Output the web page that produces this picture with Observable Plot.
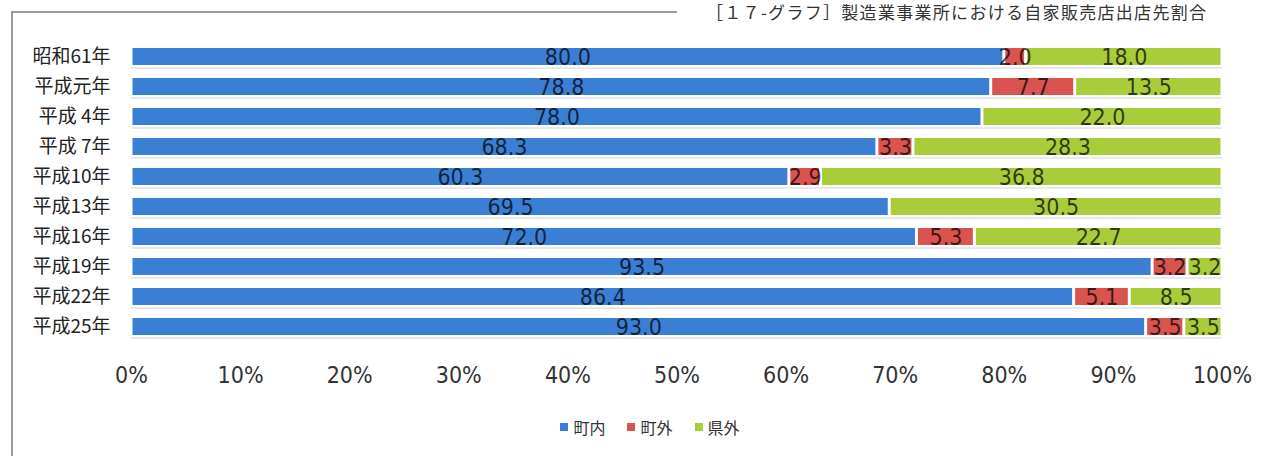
<!DOCTYPE html>
<html>
<head>
<meta charset="utf-8">
<script src="https://cdn.jsdelivr.net/npm/d3@7"></script>
<script src="https://cdn.jsdelivr.net/npm/@observablehq/plot@0.6"></script>
<style>
  html, body { margin: 0; padding: 0; background: #fff; }
  #wrap { position: relative; width: 1266px; height: 456px; overflow: hidden; background: #fff; }
  #title { position: absolute; left: 706px; top: 2px; font: 17px/19px "Noto Sans CJK JP", sans-serif; letter-spacing: 1.3px; color: #333; white-space: nowrap; }
  #frameTop { position: absolute; left: 11px; top: 11px; width: 666px; height: 2px; background: #9a9a9a; }
  #frameLeft { position: absolute; left: 11px; top: 11px; width: 2px; height: 460px; background: #9a9a9a; }
  #chart { position: absolute; left: 0; top: 0; }
  #legend { position: absolute; left: 0; top: 415px; width: 1266px; display: flex; justify-content: center; gap: 22px; font: 16px "Noto Sans CJK JP", sans-serif; color: #333; padding-left: 34px; box-sizing: border-box; }
  #legend span.item { display: flex; align-items: center; gap: 5px; }
  #legend span.sw { display: inline-block; width: 8px; height: 8px; }
</style>
</head>
<body>
<div id="wrap">
  <div id="title">［１７-グラフ］製造業事業所における自家販売店出店先割合</div>
  <div id="frameTop"></div>
  <div id="frameLeft"></div>
  <div id="chart"></div>
  <div id="legend"></div>
</div>
<script>
const years = ["昭和61年","平成元年","平成 4年","平成 7年","平成10年","平成13年","平成16年","平成19年","平成22年","平成25年"];
const categories = ["町内","町外","県外"];
const inTown  = [80.0, 78.8, 78.0, 68.3, 60.3, 69.5, 72.0, 93.5, 86.4, 93.0];
const outTown = [2.0, 7.7, 0, 3.3, 2.9, 0, 5.3, 3.2, 5.1, 3.5];
const outPref = [18.0, 13.5, 22.0, 28.3, 36.8, 30.5, 22.7, 3.2, 8.5, 3.5];
const xTicks = [0,10,20,30,40,50,60,70,80,90,100];
const colors = ["#3b7fd4","#d9534f","#a8cc3a"];

const series = [inTown, outTown, outPref];
const data = [];
years.forEach((y, i) => {
  categories.forEach((c, j) => {
    data.push({year: y, cat: c, value: series[j][i]});
  });
});

const numFont = "'Liberation Sans Narrow', 'DejaVu Sans Condensed', sans-serif";

const chart = Plot.plot({
  width: 1266,
  height: 400,
  marginLeft: 131,
  marginRight: 44,
  marginTop: 42,
  marginBottom: 58,
  style: {background: "transparent", color: "#333"},
  x: {domain: [0, 100], percent: true, ticks: xTicks, tickFormat: d => d + "%", tickSize: 0, tickPadding: 24, label: null},
  y: {domain: years, paddingInner: 0.43, paddingOuter: 0.215, tickSize: 0, tickPadding: 21, label: null},
  color: {domain: categories, range: colors},
  marks: [
    Plot.ruleY(years, {y: d => d, dy: 11, x1: 0, x2: 1, stroke: "#c8ccd6", strokeWidth: 1.5, strokeOpacity: 0.6}),
    Plot.barX(data, Plot.stackX({x: "value", y: "year", z: "cat", fill: "cat", order: null, offset: "normalize", insetLeft: 1.5, insetRight: 1.5})),
    Plot.text(data.filter(d => d.value > 0), Plot.stackX({x: "value", y: "year", z: "cat", order: null, offset: "normalize",
      text: d => d.value.toFixed(1), fill: "#000", fillOpacity: 0.72, fontSize: 23, fontFamily: numFont, dy: 1})),
    Plot.ruleX([0], {y1: years[0], y2: years[years.length-1], insetTop: -14, insetBottom: -14, stroke: "#aaa", strokeWidth: 1.2})
  ]
});

chart.querySelectorAll("g[aria-label='x-axis tick label'] text").forEach(t => {
  t.style.fontFamily = numFont; t.style.fontSize = "23px"; t.style.fill = "#333";
});
chart.querySelectorAll("g[aria-label='y-axis tick label'] text").forEach(t => {
  t.style.fontFamily = "'Noto Sans CJK JP', sans-serif"; t.style.fontSize = "19px"; t.style.fill = "#222";
  t.setAttribute("xml:space", "preserve"); t.style.whiteSpace = "pre";
});
document.getElementById("chart").appendChild(chart);

const legend = document.getElementById("legend");
categories.forEach((c, i) => {
  const item = document.createElement("span");
  item.className = "item";
  const sw = document.createElement("span");
  sw.className = "sw"; sw.style.background = colors[i];
  const lab = document.createElement("span");
  lab.textContent = c;
  item.appendChild(sw); item.appendChild(lab);
  legend.appendChild(item);
});
</script>
</body>
</html>
